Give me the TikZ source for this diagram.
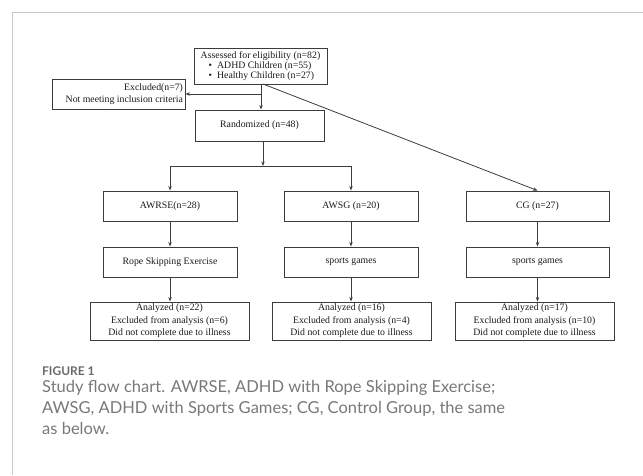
\documentclass[tikz,border=0pt]{standalone}
\usepackage{fontspec}
\setmainfont{Liberation Serif}
\newfontfamily\capfont{Lato}
\usetikzlibrary{arrows.meta}
\definecolor{framegray}{RGB}{200,200,200}
\definecolor{ink}{RGB}{60,60,60}
\definecolor{capgray}{RGB}{120,120,120}
\definecolor{figgray}{RGB}{105,105,105}
\begin{document}
\begin{tikzpicture}[x=1pt,y=-1pt,
  box/.style={draw=ink, line width=0.9pt, inner sep=0pt, align=center,
    font=\fontsize{9.8}{11.6}\selectfont, text=black!90},
  conn/.style={draw=ink, line width=0.8pt},
  arr/.style={conn, -{Stealth[length=4.5pt,width=3.4pt]}},
  captext/.style={anchor=base west, inner sep=0pt, text=capgray,
    font=\capfont\fontsize{16.5}{21}\selectfont},
]
\useasboundingbox (0,0) rectangle (643,475);
\draw[framegray, line width=1pt] (643,12) -- (12,12) -- (12,475);

% nodes
\node[box, minimum width=133pt, minimum height=36pt] (assess) at (260.5,66)
  {\begin{tabular}{@{\hspace{8pt}}c@{\hspace{5pt}}l@{}}
   \multicolumn{2}{@{}c@{}}{Assessed for eligibility (n=82)}\\[-1.5pt]
   \textbullet & ADHD Children (n=55)\\[-1.5pt]
   \textbullet & Healthy Children (n=27)
   \end{tabular}};
\node[box, minimum width=133pt, minimum height=30pt, align=right] (excl) at (118.5,94)
  {\makebox[129pt][r]{\begin{tabular}{@{}r@{}}Excluded(n=7)\\Not meeting inclusion criteria\end{tabular}}};
\node[box, minimum width=129pt, minimum height=31pt] (rand) at (259.5,125.5) {Randomized (n=48)};

\node[box, minimum width=134pt, minimum height=30pt] (awrse) at (170,206) {AWRSE(n=28)};
\node[box, minimum width=134pt, minimum height=30pt] (awsg) at (351,206) {AWSG (n=20)};
\node[box, minimum width=143pt, minimum height=30pt] (cg) at (537.5,206) {CG (n=27)};

\node[box, minimum width=134pt, minimum height=30pt] (rope) at (170,262) {Rope Skipping Exercise};
\node[box, minimum width=134pt, minimum height=30pt] (sg1) at (351,262) {sports games};
\node[box, minimum width=143pt, minimum height=30pt] (sg2) at (537.5,262) {sports games};

\node[box, minimum width=159pt, minimum height=38pt, font=\fontsize{9.8}{12.4}\selectfont] (an1) at (169.5,321)
  {Analyzed (n=22)\\Excluded from analysis (n=6)\\Did not complete due to illness};
\node[box, minimum width=159pt, minimum height=38pt, font=\fontsize{9.8}{12.4}\selectfont] (an2) at (351.5,321)
  {Analyzed (n=16)\\Excluded from analysis (n=4)\\Did not complete due to illness};
\node[box, minimum width=159pt, minimum height=38pt, font=\fontsize{9.8}{12.4}\selectfont] (an3) at (534.5,321)
  {Analyzed (n=17)\\Excluded from analysis (n=10)\\Did not complete due to illness};

% junction coordinates
\coordinate (aBot) at (261,84);
\coordinate (aSplit) at (261,94);
\coordinate (dStart) at (263,84);
\coordinate (rBot) at (263,141);
\coordinate (hMid) at (263,166);
\coordinate (hL) at (170,166);
\coordinate (hR) at (351,166);

% connectors
\draw[arr] (aBot) -- (aBot |- rand.north);
\draw[arr] (aSplit) -- (aSplit -| excl.east);
\draw[arr] (dStart) -- (cg.north);
\draw[arr] (rBot) -- (hMid);
\draw[conn] (hL) -- (hR);
\draw[arr] (hL) -- (awrse.north);
\draw[arr] (hR) -- (awsg.north);
\draw[arr] (awrse) -- (rope);
\draw[arr] (awsg) -- (sg1);
\draw[arr] (cg) -- (sg2);
\draw[arr] (rope) -- (rope.south |- an1.north);
\draw[arr] (sg1) -- (sg1.south |- an2.north);
\draw[arr] (sg2) -- (sg2.south |- an3.north);

% caption
\node[anchor=base west, inner sep=0pt, text=figgray, font=\capfont\bfseries\fontsize{12}{14}\selectfont] (fig) at (42,375) {FIGURE 1};
\node[captext] (cap1) at (42,392.3) {Study flow chart. AWRSE, ADHD with Rope Skipping Exercise;};
\node[captext] (cap2) at (42,413.3) {AWSG, ADHD with Sports Games; CG, Control Group, the same};
\node[captext] (cap3) at (42,434.3) {as below.};
\end{tikzpicture}
\end{document}
